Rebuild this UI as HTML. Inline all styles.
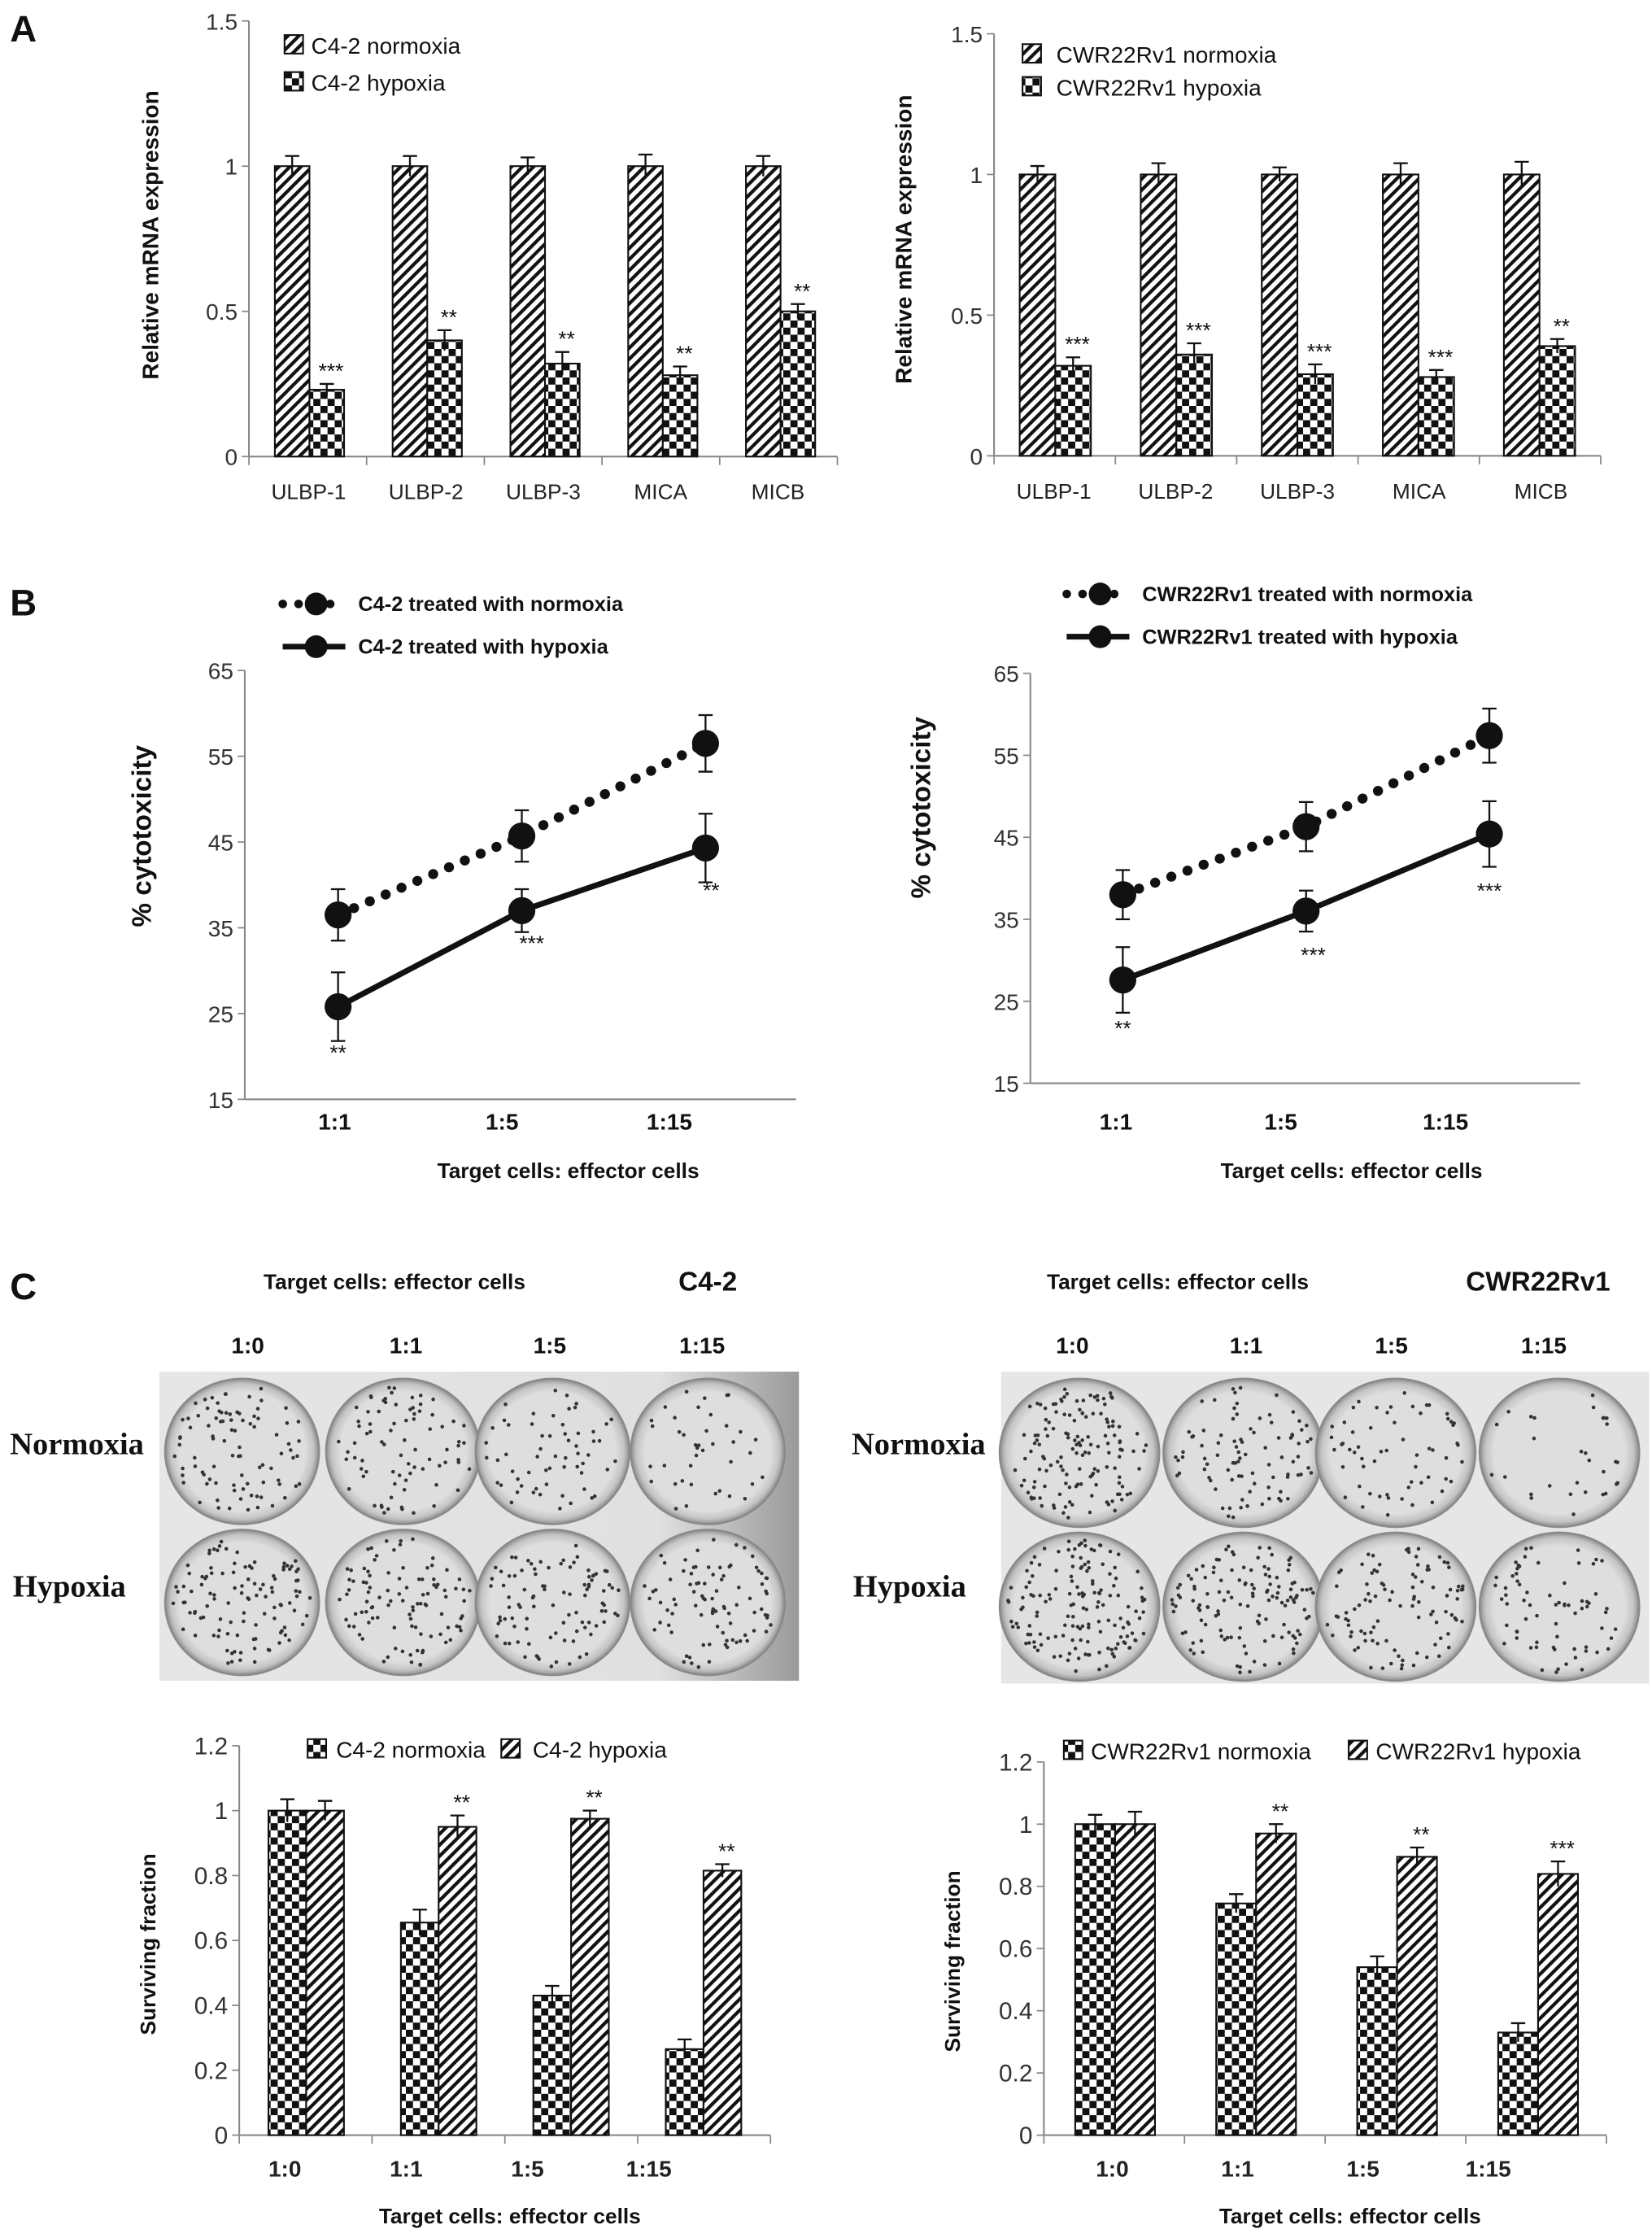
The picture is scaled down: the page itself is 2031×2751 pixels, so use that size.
<!DOCTYPE html>
<html><head><meta charset="utf-8">
<style>
html,body{margin:0;padding:0;background:#fff;}
svg{display:block;font-family:"Liberation Sans",sans-serif;}
</style></head>
<body>
<svg id="fig" width="2031" height="2751" viewBox="0 0 1160 1571.2" xmlns="http://www.w3.org/2000/svg">
<defs>
<pattern id="hatch" patternUnits="userSpaceOnUse" width="5.5" height="5.5" patternTransform="rotate(45)">
<rect width="5.5" height="5.5" fill="#fff"/><rect x="0" y="0" width="2.4" height="5.5" fill="#111"/>
</pattern>
<pattern id="check" patternUnits="userSpaceOnUse" width="10" height="10">
<rect width="10" height="10" fill="#fff"/><rect width="5" height="5" fill="#111"/><rect x="5" y="5" width="5" height="5" fill="#111"/>
</pattern>
<radialGradient id="dishg" cx="0.5" cy="0.5" r="0.5">
<stop offset="0.82" stop-color="#dedede"/><stop offset="0.93" stop-color="#c4c4c4"/><stop offset="1" stop-color="#8e8e8e"/>
</radialGradient>
<linearGradient id="bgL" x1="0" x2="1" y1="0" y2="0">
<stop offset="0" stop-color="#e6e6e6"/><stop offset="0.78" stop-color="#e0e0e0"/><stop offset="1" stop-color="#9a9a9a"/>
</linearGradient>
</defs>
<g id="root"></g>
</svg>
<script>
// ---- Panel A data ----
const aCategories = ["ULBP-1","ULBP-2","ULBP-3","MICA","MICB"];
const aTicks = [0,0.5,1,1.5];
const aTickLabels = ["0","0.5","1","1.5"];
const aLeftNorm = [1,1,1,1,1];
const aLeftNormErr = [0.035,0.035,0.03,0.04,0.035];
const aLeftHyp = [0.23,0.40,0.32,0.28,0.50];
const aLeftHypErr = [0.02,0.035,0.04,0.03,0.025];
const aLeftStars = ["***","**","**","**","**"];
const aRightNorm = [1,1,1,1,1];
const aRightNormErr = [0.03,0.04,0.025,0.04,0.045];
const aRightHyp = [0.32,0.36,0.29,0.28,0.39];
const aRightHypErr = [0.03,0.04,0.035,0.025,0.025];
const aRightStars = ["***","***","***","***","**"];
// ---- Panel B data ----
const bCategories = ["1:1","1:5","1:15"];
const bTicks = [15,25,35,45,55,65];
const bLeftNorm = [36.5,45.7,56.5];
const bLeftNormErr = [3,3,3.3];
const bLeftHyp = [25.8,37,44.3];
const bLeftHypErr = [4,2.5,4];
const bLeftStars = ["**","***","**"];
const bRightNorm = [38,46.3,57.4];
const bRightNormErr = [3,3,3.3];
const bRightHyp = [27.6,36,45.4];
const bRightHypErr = [4,2.5,4];
const bRightStars = ["**","***","***"];
// ---- Panel C data ----
const cCategories = ["1:0","1:1","1:5","1:15"];
const cTicks = [0,0.2,0.4,0.6,0.8,1,1.2];
const cLeftNorm = [1.0,0.655,0.43,0.265];
const cLeftNormErr = [0.035,0.04,0.03,0.03];
const cLeftHyp = [1.0,0.95,0.975,0.815];
const cLeftHypErr = [0.03,0.035,0.025,0.02];
const cLeftStars = ["","**","**","**"];
const cRightNorm = [1.0,0.745,0.54,0.33];
const cRightNormErr = [0.03,0.03,0.035,0.03];
const cRightHyp = [1.0,0.97,0.895,0.84];
const cRightHypErr = [0.04,0.03,0.03,0.04];
const cRightStars = ["","**","**","***"];

const NS="http://www.w3.org/2000/svg";
const root=document.getElementById('root');
function el(tag,attrs,parent,text){const e=document.createElementNS(NS,tag);for(const k in attrs)e.setAttribute(k,attrs[k]);if(text!==undefined)e.textContent=text;(parent||root).appendChild(e);return e;}
function txt(x,y,s,size,opts,parent){opts=opts||{};const t=el('text',{x:x,y:y,'font-size':size,'text-anchor':opts.anchor||'middle','font-weight':opts.bold?'bold':'normal',fill:opts.fill||'#111','font-family':opts.serif?'"Liberation Serif",serif':'"Liberation Sans",sans-serif'},parent,s);if(opts.rot)t.setAttribute('transform','rotate(-90 '+x+' '+y+')');return t;}
function linear(d0,d1,r0,r1){return v=>r0+(v-d0)*(r1-r0)/(d1-d0);}

// Panel letters
[["A",7,29,26],["B",7,432,26],["C",7,912,26]].forEach(p=>{const t=txt(p[1],p[2],p[0],p[3],{anchor:'start',bold:true});

});

function barChart(cfg){
  const g=el('g',{});
  
  
  const y=linear(cfg.ymin,cfg.ymax,cfg.y0,cfg.y1);
  el('line',{x1:cfg.ax,y1:cfg.y0,x2:cfg.ax,y2:cfg.y1,stroke:'#888','stroke-width':1.2},g);
  el('line',{x1:cfg.ax,y1:cfg.y0,x2:cfg.axEnd,y2:cfg.y0,stroke:'#888','stroke-width':1.2},g);
  cfg.ticks.forEach((t,i)=>{el('line',{x1:cfg.ax-5,y1:y(t),x2:cfg.ax,y2:y(t),stroke:'#888'},g);
    const l=txt(cfg.ax-8,y(t)+6,cfg.tickLabels?cfg.tickLabels[i]:String(t),cfg.tickSize||16,{anchor:'end',fill:'#333'},g);
    
    });
  const n=cfg.cats.length;
  for(let i=0;i<=n;i++){const xx=cfg.ax+(cfg.axEnd-cfg.ax)*i/n;el('line',{x1:xx,y1:cfg.y0,x2:xx,y2:cfg.y0+6,stroke:'#888'},g);}
  const bw=cfg.bw;
  cfg.cats.forEach((c,i)=>{
    const gx=cfg.g0+cfg.gstep*i;
    [[cfg.s1,cfg.e1,cfg.f1,null],[cfg.s2,cfg.e2,cfg.f2,cfg.stars]].forEach((s,j)=>{
      const v=s[0][i],e=s[1][i],x=gx+j*bw;
      const r=el('rect',{x:x,y:y(v),width:bw,height:cfg.y0-y(v),fill:'url(#'+s[2]+')',stroke:'#111','stroke-width':1.2},g);
      
      
      const cx=x+bw/2;
      el('path',{d:`M${cx},${y(v+e)}V${y(v-e)}M${cx-5},${y(v+e)}H${cx+5}`,stroke:'#111','stroke-width':1.3,fill:'none'},g);
      if(s[3]&&s[3][i]){const st=txt(cx+(cfg.starDx||3),y(v+e)-4,s[3][i],15,{},g);
        
        }
    });
    const lb=txt(cfg.lab0+cfg.labStep*i,cfg.y0+cfg.labDy,c,cfg.labSize||15,{bold:cfg.labBold,fill:'#222'},g);
    
    
  });
  const yt=txt(cfg.ytx,cfg.yty,cfg.ytitle,cfg.ytSize||15,{bold:true,rot:true},g);
  
  
  if(cfg.xtitle){const xt=txt(cfg.xtx,cfg.xty,cfg.xtitle,15,{bold:true},g);
    
    }
  cfg.legend.forEach(L=>{
    const lg=el('g',{},g);
    
    
    el('rect',{x:L[0]-6,y:L[1]-7,width:13,height:13,fill:'url(#'+L[3]+')',stroke:'#111','stroke-width':1.2},lg);
    txt(L[4],L[1]+6,L[2],cfg.legSize||16,{anchor:'start'},lg);
  });
}

barChart({name:'chart-a-c4-2',ax:174.8,axEnd:588,y0:320.5,y1:14.7,ymin:0,ymax:1.5,ticks:aTicks,tickLabels:aTickLabels,cats:aCategories,
  g0:193,gstep:82.7,bw:24.3,s1:aLeftNorm,e1:aLeftNormErr,f1:'hatch',s2:aLeftHyp,e2:aLeftHypErr,f2:'check',stars:aLeftStars,
  lab0:216.7,labStep:82.4,labDy:30,ytx:111,yty:165,ytitle:'Relative mRNA expression',ytSize:16,
  legend:[[205.8,31.6,'C4-2 normoxia','hatch',218.5],[205.8,57.6,'C4-2 hypoxia','check',218.5]]});
barChart({name:'chart-a-cwr22rv1',ax:698,axEnd:1124,y0:320,y1:23.7,ymin:0,ymax:1.5,ticks:aTicks,tickLabels:aTickLabels,cats:aCategories,
  g0:716,gstep:85,bw:25,s1:aRightNorm,e1:aRightNormErr,f1:'hatch',s2:aRightHyp,e2:aRightHypErr,f2:'check',stars:aRightStars,
  lab0:740,labStep:85.5,labDy:30,ytx:640,yty:168,ytitle:'Relative mRNA expression',ytSize:16,
  legend:[[724,38,'CWR22Rv1 normoxia','hatch',741.7],[724,61,'CWR22Rv1 hypoxia','check',741.7]]});

function lineChart(cfg){
  const g=el('g',{});
  
  
  const y=linear(15,65,cfg.y0,cfg.y1);
  const x=i=>cfg.x0+cfg.xstep*i;
  el('line',{x1:cfg.ax,y1:cfg.y0,x2:cfg.ax,y2:cfg.y1,stroke:'#888','stroke-width':1.2},g);
  el('line',{x1:cfg.ax,y1:cfg.y0,x2:cfg.axEnd,y2:cfg.y0,stroke:'#888','stroke-width':1.2},g);
  bTicks.forEach(t=>{el('line',{x1:cfg.ax-5,y1:y(t),x2:cfg.ax,y2:y(t),stroke:'#888'},g);
    const l=txt(cfg.ax-8,y(t)+6,String(t),16,{anchor:'end',fill:'#333'},g);
    
    });
  bCategories.forEach((c,i)=>{const l=txt(cfg.lab0+cfg.labStep*i,793,c,16,{bold:true},g);
    
    });
  [[cfg.n,cfg.ne,true,null],[cfg.h,cfg.he,false,cfg.stars]].forEach((s,j)=>{
    const pts=s[0].map((v,i)=>x(i)+','+y(v)).join(' ');
    const pl=el('polyline',{points:pts,fill:'none',stroke:'#111','stroke-width':s[2]?7:4,'stroke-dasharray':s[2]?'0.1 12':'none','stroke-linecap':'round'},g);
    
    
    s[0].forEach((v,i)=>{const cx=x(i),e=s[1][i];
      el('path',{d:`M${cx},${y(v+e)}V${y(v-e)}M${cx-5},${y(v+e)}H${cx+5}M${cx-5},${y(v-e)}H${cx+5}`,stroke:'#111','stroke-width':1.3,fill:'none'},g);
      const c=el('circle',{cx:cx,cy:y(v),r:9.5,fill:'#111'},g);
      
      
      if(s[3]){const st=txt(cx+cfg.starDx[i],y(v)+cfg.starDy[i]+8,s[3][i],15,{},g);
        
        }
    });
  });
  const yt=txt(cfg.ytx,cfg.yty,'% cytotoxicity',19,{bold:true,rot:true},g);
  
  
  const xt=txt(cfg.xtx,827,'Target cells: effector cells',15,{bold:true},g);
  
  
  const l1=el('g',{},g);
  
  
  el('line',{x1:cfg.lx,y1:cfg.ly,x2:cfg.lx+44,y2:cfg.ly,stroke:'#111','stroke-width':6,'stroke-dasharray':'0.1 11','stroke-linecap':'round'},l1);
  el('circle',{cx:cfg.lx+23.5,cy:cfg.ly,r:8,fill:'#111'},l1);
  txt(cfg.lx+53,cfg.ly+5,cfg.l1,14.5,{anchor:'start',bold:true},l1);
  const l2=el('g',{},g);
  
  
  el('line',{x1:cfg.lx,y1:cfg.ly+30,x2:cfg.lx+44,y2:cfg.ly+30,stroke:'#111','stroke-width':4},l2);
  el('circle',{cx:cfg.lx+23.5,cy:cfg.ly+30,r:8,fill:'#111'},l2);
  txt(cfg.lx+53,cfg.ly+35,cfg.l2,14.5,{anchor:'start',bold:true},l2);
}
lineChart({name:'chart-b-c4-2',ax:171.9,axEnd:559,y0:771.8,y1:470.7,x0:237.4,xstep:129,lab0:235,labStep:117.5,n:bLeftNorm,ne:bLeftNormErr,h:bLeftHyp,he:bLeftHypErr,stars:bLeftStars,
  starDx:[0,7,4],starDy:[29.5,20,27],lx:198.5,ly:424,l1:'C4-2 treated with normoxia',l2:'C4-2 treated with hypoxia',ytx:106,yty:587,xtx:399});
lineChart({name:'chart-b-cwr22rv1',ax:723.5,axEnd:1109.6,y0:760.5,y1:472.7,x0:788.4,xstep:128.7,lab0:783.6,labStep:115.7,n:bRightNorm,ne:bRightNormErr,h:bRightHyp,he:bRightHypErr,stars:bRightStars,
  starDx:[0,5,0],starDy:[31,28,37],lx:749,ly:417,l1:'CWR22Rv1 treated with normoxia',l2:'CWR22Rv1 treated with hypoxia',ytx:653,yty:567,xtx:949});

// Panel C photos
let seed=12345;function rnd(){seed=(seed*1103515245+12345)%2147483648;return seed/2147483648;}
function photo(name,px,py,pw,ph,bg,cxs,cys,rx,ry,dens,title,tx,colLabels,colX){
  const g=el('g',{});
  
  
  el('rect',{x:px,y:py,width:pw,height:ph,fill:bg},g);
  for(let rI=0;rI<2;rI++)for(let c=0;c<4;c++){
    const cx=cxs[c],cy=cys[rI];
    const d=el('ellipse',{cx:cx,cy:cy,rx:rx,ry:ry,fill:'url(#dishg)',stroke:'#8a8a8a','stroke-width':1.5},g);
    
    
    const n=dens[rI][c];
    for(let k=0;k<n;k++){const a=rnd()*6.283,rr=Math.sqrt(rnd())*0.9;
      el('circle',{cx:cx+Math.cos(a)*rr*rx,cy:cy+Math.sin(a)*rr*ry,r:1.3,fill:'#333'},g);}
  }
  const hd=txt(tx,905,'Target cells: effector cells',15,{bold:true},g);
  
  
  colLabels.forEach((l,i)=>{const t=txt(colX[i],950,l,16,{bold:true},g);
    
    });
  const tt=txt(title[1],906,title[0],19,{bold:true},g);
  
  
}
photo('photo-c4-2',112,963,449,217,'url(#bgL)',[170,283,388,497],[1019,1125],54,51,[[90,80,60,40],[110,100,95,90]],['C4-2',497],277,cCategories,[174,285,386,493]);
photo('photo-cwr22rv1',703,963,455,219,'#e6e6e6',[758,873,980,1095],[1020,1128],56,52,[[140,90,60,30],[150,130,100,70]],['CWR22Rv1',1080],827,cCategories,[753,875,977,1084]);
[['Normoxia',7,1021],['Hypoxia',9,1121],['Normoxia',598,1021],['Hypoxia',599,1121]].forEach(L=>{
  const t=txt(L[1],L[2],L[0],22,{bold:true,serif:true,anchor:'start'});
  
  });

barChart({name:'chart-c-c4-2',ax:168,axEnd:541,y0:1499,y1:1225.6,ymin:0,ymax:1.2,ticks:cTicks,cats:cCategories,tickSize:17,
  g0:188.5,gstep:93,bw:26.5,s1:cLeftNorm,e1:cLeftNormErr,f1:'check',s2:cLeftHyp,e2:cLeftHypErr,f2:'hatch',stars:cLeftStars,starDx:0,
  lab0:200,labStep:85.2,labDy:29,labBold:true,labSize:16,ytx:109,yty:1365,ytitle:'Surviving  fraction',xtx:358,xty:1561,xtitle:'Target cells: effector cells',
  legend:[[222,1228,'C4-2 normoxia','check',236],[358,1228,'C4-2 hypoxia','hatch',374]]});
barChart({name:'chart-c-cwr22rv1',ax:733,axEnd:1128,y0:1499,y1:1237,ymin:0,ymax:1.2,ticks:cTicks,cats:cCategories,tickSize:17,
  g0:755,gstep:99,bw:28,s1:cRightNorm,e1:cRightNormErr,f1:'check',s2:cRightHyp,e2:cRightHypErr,f2:'hatch',stars:cRightStars,starDx:0,
  lab0:781,labStep:88,labDy:29,labBold:true,labSize:16,ytx:674,yty:1377,ytitle:'Surviving fraction',xtx:948,xty:1561,xtitle:'Target cells: effector cells',
  legend:[[753,1229,'CWR22Rv1 normoxia','check',766],[953,1229,'CWR22Rv1 hypoxia','hatch',966]]});
</script>
</body></html>
